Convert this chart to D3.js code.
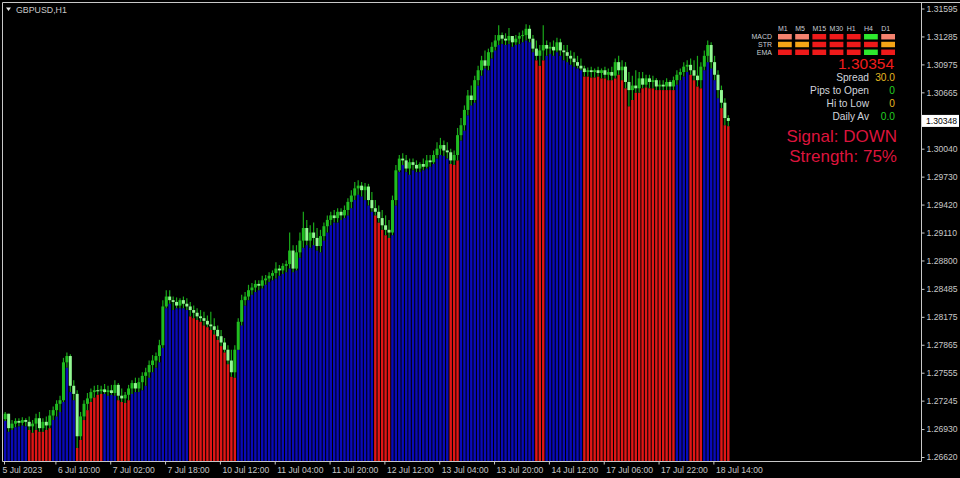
<!DOCTYPE html>
<html><head><meta charset="utf-8">
<script src="https://cdn.jsdelivr.net/npm/d3@7"></script>
<style>html,body{margin:0;padding:0;background:#000;}svg{display:block;}</style>
</head><body>
<svg id="c" width="960" height="478"></svg>
<script>
// ---------- DATA (GBPUSD H1) ----------
const openP = [1.2704,1.2710,1.2694,1.2699,1.2702,1.2700,1.2703,1.2701,1.2696,1.2699,1.2705,1.2694,1.2701,1.2697,1.2708,1.2714,1.2721,1.2725,1.2767,1.2774,
1.2741,1.2732,1.2685,1.2707,1.2721,1.2727,1.2734,1.2736,1.2735,1.2737,1.2734,1.2736,1.2733,1.2742,1.2730,1.2727,1.2731,1.2738,1.2744,1.2738,
1.2745,1.2752,1.2756,1.2764,1.2769,1.2774,1.2786,1.2829,1.2840,1.2836,1.2834,1.2830,1.2836,1.2832,1.2829,1.2825,1.2822,1.2818,1.2816,1.2813,
1.2809,1.2807,1.2803,1.2796,1.2789,1.2781,1.2769,1.2756,1.2781,1.2812,1.2836,1.2840,1.2847,1.2850,1.2854,1.2852,1.2858,1.2860,1.2863,1.2866,
1.2871,1.2869,1.2874,1.2876,1.2891,1.2871,1.2889,1.2902,1.2916,1.2902,1.2911,1.2905,1.2896,1.2907,1.2918,1.2925,1.2930,1.2927,1.2934,1.2930,
1.2936,1.2945,1.2952,1.2960,1.2963,1.2958,1.2962,1.2947,1.2938,1.2934,1.2927,1.2919,1.2914,1.2911,1.2947,1.2980,1.2993,1.2991,1.2982,1.2989,
1.2986,1.2982,1.2987,1.2984,1.2991,1.2989,1.2997,1.3004,1.3008,1.3002,1.3000,1.2991,1.2997,1.3019,1.3030,1.3047,1.3063,1.3058,1.3080,1.3091,
1.3102,1.3096,1.3111,1.3117,1.3124,1.3130,1.3126,1.3124,1.3129,1.3122,1.3126,1.3129,1.3130,1.3137,1.3126,1.3115,1.3107,1.3113,1.3119,1.3115,
1.3117,1.3113,1.3122,1.3113,1.3111,1.3107,1.3104,1.3100,1.3096,1.3093,1.3089,1.3091,1.3089,1.3091,1.3088,1.3091,1.3086,1.3089,1.3085,1.3100,
1.3091,1.3095,1.3078,1.3069,1.3074,1.3071,1.3082,1.3075,1.3082,1.3078,1.3080,1.3073,1.3075,1.3073,1.3078,1.3073,1.3080,1.3086,1.3089,1.3095,
1.3097,1.3091,1.3085,1.3080,1.3095,1.3107,1.3119,1.3100,1.3086,1.3069,1.3055,1.3038];
const highP = [1.2712,1.2710,1.2703,1.2705,1.2705,1.2706,1.2705,1.2707,1.2703,1.2710,1.2712,1.2705,1.2707,1.2714,1.2718,1.2725,1.2730,1.2772,1.2778,1.2776,
1.2747,1.2736,1.2712,1.2725,1.2733,1.2738,1.2741,1.2742,1.2741,1.2743,1.2741,1.2742,1.2747,1.2744,1.2738,1.2734,1.2742,1.2747,1.2750,1.2750,
1.2756,1.2761,1.2769,1.2775,1.2778,1.2792,1.2836,1.2847,1.2847,1.2840,1.2839,1.2838,1.2840,1.2838,1.2834,1.2830,1.2827,1.2825,1.2823,1.2819,
1.2823,1.2816,1.2808,1.2803,1.2794,1.2786,1.2781,1.2786,1.2816,1.2842,1.2845,1.2853,1.2855,1.2858,1.2858,1.2863,1.2864,1.2867,1.2869,1.2878,
1.2875,1.2877,1.2880,1.2911,1.2897,1.2897,1.2911,1.2934,1.2925,1.2919,1.2922,1.2916,1.2914,1.2922,1.2930,1.2934,1.2936,1.2938,1.2938,1.2941,
1.2949,1.2958,1.2967,1.2969,1.2967,1.2966,1.2965,1.2956,1.2947,1.2941,1.2936,1.2930,1.2925,1.2952,1.2986,1.2997,1.2999,1.2997,1.2993,1.2993,
1.2991,1.2989,1.2993,1.2997,1.2997,1.3002,1.3011,1.3016,1.3013,1.3011,1.3004,1.3002,1.3027,1.3038,1.3052,1.3069,1.3074,1.3085,1.3096,1.3107,
1.3113,1.3115,1.3122,1.3130,1.3141,1.3133,1.3132,1.3138,1.3129,1.3130,1.3133,1.3135,1.3142,1.3141,1.3130,1.3124,1.3119,1.3141,1.3124,1.3122,
1.3124,1.3127,1.3126,1.3119,1.3119,1.3113,1.3111,1.3107,1.3104,1.3096,1.3094,1.3095,1.3093,1.3095,1.3093,1.3095,1.3093,1.3095,1.3104,1.3107,
1.3102,1.3100,1.3089,1.3085,1.3091,1.3089,1.3089,1.3086,1.3086,1.3085,1.3082,1.3080,1.3080,1.3082,1.3080,1.3084,1.3091,1.3093,1.3100,1.3102,
1.3104,1.3102,1.3107,1.3100,1.3113,1.3124,1.3122,1.3107,1.3091,1.3074,1.3060,1.3041];
const lowP = [1.2702,1.2690,1.2692,1.2695,1.2696,1.2697,1.2696,1.2692,1.2689,1.2692,1.2690,1.2690,1.2692,1.2694,1.2703,1.2707,1.2712,1.2723,1.2761,1.2734,
1.2725,1.2672,1.2681,1.2703,1.2714,1.2723,1.2728,1.2731,1.2732,1.2732,1.2730,1.2731,1.2730,1.2725,1.2723,1.2722,1.2725,1.2732,1.2734,1.2734,
1.2736,1.2741,1.2750,1.2756,1.2761,1.2767,1.2783,1.2827,1.2832,1.2825,1.2827,1.2827,1.2827,1.2825,1.2818,1.2816,1.2814,1.2812,1.2808,1.2806,
1.2803,1.2798,1.2792,1.2785,1.2778,1.2765,1.2751,1.2750,1.2781,1.2808,1.2830,1.2836,1.2842,1.2845,1.2847,1.2849,1.2853,1.2856,1.2858,1.2860,
1.2863,1.2865,1.2867,1.2871,1.2867,1.2869,1.2883,1.2894,1.2897,1.2894,1.2897,1.2891,1.2889,1.2902,1.2911,1.2919,1.2922,1.2922,1.2925,1.2927,
1.2930,1.2938,1.2947,1.2953,1.2951,1.2947,1.2941,1.2934,1.2930,1.2922,1.2914,1.2908,1.2905,1.2908,1.2941,1.2978,1.2986,1.2978,1.2975,1.2980,
1.2978,1.2978,1.2980,1.2982,1.2984,1.2987,1.2993,1.2997,1.2996,1.2993,1.2987,1.2986,1.2991,1.3013,1.3024,1.3041,1.3052,1.3055,1.3074,1.3085,
1.3093,1.3091,1.3104,1.3113,1.3119,1.3120,1.3119,1.3120,1.3117,1.3119,1.3120,1.3122,1.3124,1.3122,1.3111,1.3102,1.3096,1.3102,1.3107,1.3109,
1.3107,1.3111,1.3107,1.3102,1.3100,1.3097,1.3095,1.3093,1.3091,1.3084,1.3084,1.3083,1.3083,1.3084,1.3082,1.3082,1.3080,1.3080,1.3082,1.3086,
1.3080,1.3071,1.3051,1.3058,1.3066,1.3066,1.3071,1.3072,1.3071,1.3071,1.3069,1.3069,1.3069,1.3069,1.3069,1.3069,1.3075,1.3080,1.3084,1.3089,
1.3086,1.3080,1.3073,1.3071,1.3091,1.3100,1.3093,1.3080,1.3060,1.3049,1.3030,1.3029];
const closeP = [1.2710,1.2694,1.2699,1.2702,1.2700,1.2703,1.2701,1.2696,1.2699,1.2705,1.2694,1.2701,1.2697,1.2708,1.2714,1.2721,1.2725,1.2767,1.2774,1.2741,
1.2732,1.2685,1.2707,1.2721,1.2727,1.2734,1.2736,1.2735,1.2737,1.2734,1.2736,1.2733,1.2742,1.2730,1.2727,1.2731,1.2738,1.2744,1.2738,1.2745,
1.2752,1.2756,1.2764,1.2769,1.2774,1.2786,1.2829,1.2840,1.2836,1.2834,1.2830,1.2836,1.2832,1.2829,1.2825,1.2822,1.2818,1.2816,1.2813,1.2809,
1.2807,1.2803,1.2796,1.2789,1.2781,1.2769,1.2756,1.2781,1.2812,1.2836,1.2840,1.2847,1.2850,1.2854,1.2852,1.2858,1.2860,1.2863,1.2866,1.2871,
1.2869,1.2874,1.2876,1.2891,1.2871,1.2889,1.2902,1.2916,1.2902,1.2911,1.2905,1.2896,1.2907,1.2918,1.2925,1.2930,1.2927,1.2934,1.2930,1.2936,
1.2945,1.2952,1.2960,1.2963,1.2958,1.2962,1.2947,1.2938,1.2934,1.2927,1.2919,1.2914,1.2911,1.2947,1.2980,1.2993,1.2991,1.2982,1.2989,1.2986,
1.2982,1.2987,1.2984,1.2991,1.2989,1.2997,1.3004,1.3008,1.3002,1.3000,1.2991,1.2997,1.3019,1.3030,1.3047,1.3063,1.3058,1.3080,1.3091,1.3102,
1.3096,1.3111,1.3117,1.3124,1.3130,1.3126,1.3124,1.3129,1.3122,1.3126,1.3129,1.3130,1.3137,1.3126,1.3115,1.3107,1.3113,1.3119,1.3115,1.3117,
1.3113,1.3122,1.3113,1.3111,1.3107,1.3104,1.3100,1.3096,1.3093,1.3089,1.3091,1.3089,1.3091,1.3088,1.3091,1.3086,1.3089,1.3085,1.3100,1.3091,
1.3095,1.3078,1.3069,1.3074,1.3071,1.3082,1.3075,1.3082,1.3078,1.3080,1.3073,1.3075,1.3073,1.3078,1.3073,1.3080,1.3086,1.3089,1.3095,1.3097,
1.3091,1.3085,1.3080,1.3095,1.3107,1.3119,1.3100,1.3086,1.3069,1.3055,1.3038,1.30348];
// bar index ranges where the trend histogram is "down" (red); all others "up" (blue)
const downRanges = [[7,13],[21,28],[33,36],[54,67],[108,112],[130,132],[155,157],[169,195],[200,203],[209,211]];

const priceTicks = [1.31595,1.31285,1.30975,1.30665,1.30040,1.29730,1.29420,1.29110,1.28800,1.28485,1.28175,1.27865,1.27555,1.27245,1.26930,1.26620];
const lastPrice = 1.30348;
const timeTickIndex = [0,15,31,47,63,79,95,111,127,143,159,175,191,207];
const timeTickLabels = ["5 Jul 2023","6 Jul 10:00","7 Jul 02:00","7 Jul 18:00","10 Jul 12:00","11 Jul 04:00","11 Jul 20:00","12 Jul 12:00","13 Jul 04:00","13 Jul 20:00","14 Jul 12:00","17 Jul 06:00","17 Jul 22:00","18 Jul 14:00"];

const tfLabels = ["M1","M5","M15","M30","H1","H4","D1"];
const rowLabels = ["MACD","STR","EMA"];
const cellStates = [
  ["weak","weak","down","down","down","up","weak"],
  ["flat","flat","down","down","down","down","flat"],
  ["down","down","down","down","down","up","down"]
];
const bidText = "1.30354";
const infoLabels = ["Spread","Pips to Open","Hi to Low","Daily Av"];
const infoValues = ["30.0","0","0","0.0"];
const infoKinds = ["gold","green","gold","green"];
const signalLines = ["Signal: DOWN","Strength: 75%"];

// ---------- DRAW ----------
const svg = d3.select("#c");
const FONT = "'Liberation Sans', Arial, sans-serif";
const BLUE = "#0a0ab8", RED = "#e01616";
const WICK = "#1aa81a", BULL = "#20bd20", BEAR = "#94f894";
const AXC = "#c8c8c8";
const N = closeP.length;
const x = d3.scaleLinear().domain([0, N]).range([4, 4 + N * 3.427]);
const y = d3.scaleLinear().domain([1.26620, 1.31595]).range([457, 8.5]);
const plotBottom = 461, axisX = 921;
const barW = 2.4;
const isDown = i => downRanges.some(([a, b]) => i >= a && i <= b);

svg.append("rect").attr("width", 960).attr("height", 478).attr("fill", "#000");

// histogram
svg.append("g").selectAll("rect").data(d3.range(N)).join("rect")
  .attr("x", i => x(i)).attr("y", i => y(lowP[i]))
  .attr("width", barW).attr("height", i => plotBottom - y(lowP[i]))
  .attr("fill", i => isDown(i) ? RED : BLUE);

// candles
const cg = svg.append("g");
cg.selectAll("line").data(d3.range(N)).join("line")
  .attr("x1", i => x(i) + barW / 2).attr("x2", i => x(i) + barW / 2)
  .attr("y1", i => y(highP[i])).attr("y2", i => y(lowP[i]))
  .attr("stroke", WICK).attr("stroke-width", 1.2);
cg.selectAll("rect").data(d3.range(N)).join("rect")
  .attr("x", i => x(i) - 0.3).attr("width", barW + 0.6)
  .attr("y", i => y(Math.max(openP[i], closeP[i])))
  .attr("height", i => Math.max(1, Math.abs(y(openP[i]) - y(closeP[i]))))
  .attr("fill", i => closeP[i] >= openP[i] ? BULL : BEAR);

// frame
svg.append("path").attr("d", `M2.5,${plotBottom + 0.5}V2.5H960`).attr("stroke", AXC).attr("fill", "none");
svg.append("line").attr("x1", 2.5).attr("x2", axisX + 0.5).attr("y1", plotBottom + 0.5).attr("y2", plotBottom + 0.5).attr("stroke", AXC);
svg.append("line").attr("x1", axisX + 0.5).attr("x2", axisX + 0.5).attr("y1", 2.5).attr("y2", plotBottom + 0.5).attr("stroke", AXC);

// price axis
const ya = svg.append("g").attr("transform", `translate(${axisX + 0.5},0)`)
  .call(d3.axisRight(y).tickValues(priceTicks).tickFormat(d3.format(".5f")).tickSize(3).tickPadding(2));
ya.select(".domain").remove();
ya.selectAll("line").attr("stroke", AXC);
ya.selectAll("text").attr("fill", AXC).attr("font-family", FONT).attr("font-size", 8.6);

// last price box
const ly = y(lastPrice);
svg.append("rect").attr("x", axisX + 1).attr("y", ly - 6).attr("width", 37).attr("height", 12).attr("fill", "#fff");
svg.append("text").attr("x", axisX + 5).attr("y", ly).attr("dy", "0.35em").text(d3.format(".5f")(lastPrice))
  .attr("fill", "#000").attr("font-family", FONT).attr("font-size", 8.6);

// time axis
const xa = svg.append("g").attr("transform", `translate(0,${plotBottom + 0.5})`)
  .call(d3.axisBottom(x).tickValues(timeTickIndex).tickFormat((d, i) => timeTickLabels[i]).tickSize(3).tickPadding(2));
xa.select(".domain").remove();
xa.selectAll("line").attr("stroke", AXC);
xa.selectAll("text").attr("fill", AXC).attr("font-family", FONT).attr("font-size", 8.6)
  .attr("text-anchor", "start").attr("dx", (d, i) => i === 0 ? -2 : 2);

// title
svg.append("path").attr("d", "M6,7.5L11,7.5L8.5,11Z").attr("fill", "#e8e8e8");
svg.append("text").attr("x", 16).attr("y", 12.5).text("GBPUSD,H1")
  .attr("fill", AXC).attr("font-family", FONT).attr("font-size", 8.8);

// dashboard
const cellColor = {weak: "#f5826e", flat: "#f5a516", down: "#ee1a1a", up: "#2ee82e"};
const colX = d3.scaleBand().domain(tfLabels).range([778, 895]).paddingInner(0.2);
const rowY = d3.scaleBand().domain(rowLabels).range([34, 55]).paddingInner(0.3);
const dash = svg.append("g").attr("font-family", FONT);
dash.selectAll("text.tf").data(tfLabels).join("text").attr("class", "tf")
  .attr("x", d => colX(d)).attr("y", 30.5).attr("text-anchor", "start")
  .attr("fill", "#c8ccd4").attr("font-size", 7).text(d => d);
dash.selectAll("text.rl").data(rowLabels).join("text").attr("class", "rl")
  .attr("x", 772).attr("y", d => rowY(d) + rowY.bandwidth() / 2).attr("dy", "0.35em").attr("text-anchor", "end")
  .attr("fill", "#c8ccd4").attr("font-size", 7).text(d => d);
cellStates.forEach((row, r) => {
  dash.selectAll(null).data(row).join("rect")
    .attr("x", (d, c) => colX(tfLabels[c])).attr("y", rowY(rowLabels[r]))
    .attr("width", colX.bandwidth()).attr("height", rowY.bandwidth())
    .attr("fill", d => cellColor[d]);
});
dash.append("text").attr("x", 894).attr("y", 68.5).attr("text-anchor", "end")
  .attr("fill", "#f01c1c").attr("font-size", 15.5).text(bidText);
const infoColor = {gold: "#e6b820", green: "#22d022"};
dash.selectAll("text.il").data(infoLabels).join("text").attr("class", "il")
  .attr("x", 869).attr("y", (d, i) => 80.5 + i * 13.2).attr("text-anchor", "end")
  .attr("fill", "#d0d4dc").attr("font-size", 10.2).text(d => d);
dash.selectAll("text.iv").data(infoValues).join("text").attr("class", "iv")
  .attr("x", 895).attr("y", (d, i) => 80.5 + i * 13.2).attr("text-anchor", "end")
  .attr("fill", (d, i) => infoColor[infoKinds[i]]).attr("font-size", 10.2).text(d => d);
dash.selectAll("text.sg").data(signalLines).join("text").attr("class", "sg")
  .attr("x", 897).attr("y", (d, i) => 141.5 + i * 20.5).attr("text-anchor", "end")
  .attr("fill", "#dc143c").attr("font-size", 17).text(d => d);
</script>
</body></html>
